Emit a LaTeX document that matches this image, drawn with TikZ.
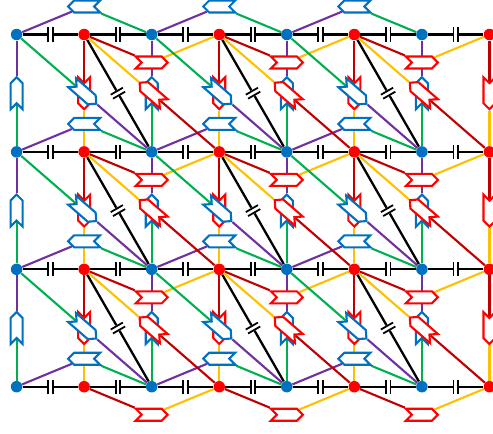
\documentclass[tikz,border=0pt]{standalone}
\usepackage{tikz}
\usepackage{xcolor}
\usetikzlibrary{shapes.symbols}
\definecolor{latblue}{HTML}{0070C0}
\definecolor{latred}{HTML}{FF0000}
\definecolor{latdarkred}{HTML}{C00000}
\definecolor{latyellow}{HTML}{FFC000}
\definecolor{latgreen}{HTML}{00B050}
\definecolor{latpurple}{HTML}{7030A0}
\newcommand{\capbars}{\rule[-4pt]{1pt}{8pt}\hspace{1.6pt}\rule[-4pt]{1pt}{8pt}}
\pgfdeclarelayer{wires}
\pgfsetlayers{wires,main}

\begin{document}
\begin{tikzpicture}[x=0.02cm, y=0.02cm,
    bdot/.style={circle, fill=latblue, inner sep=0pt, minimum size=0.23cm},
    rdot/.style={circle, fill=latred, inner sep=0pt, minimum size=0.23cm},
    flag/.style={signal, signal to=east, signal from=west, draw, fill=white, line width=1.2pt, inner sep=0pt, minimum width=0.64cm, minimum height=0.24cm},
    bflag/.style={flag, draw=latblue},
    rflag/.style={flag, draw=latred},
    wire/.style={line width=1.2pt},
    capline/.style={line width=1.3pt, black},
    capmark/.style={midway, sloped, inner sep=0pt, fill=white}]
  \useasboundingbox (0,0) rectangle (493,-433);
  \clip (0,0) rectangle (493,-433);
  \foreach \r in {0,...,3} {
    \foreach \c in {0,2,4,6} \node[bdot] (d\c\r) at ({16.6+67.55*\c},{-34.5-117.4*\r}) {};
    \foreach \c in {1,3,5,7} \node[rdot] (d\c\r) at ({16.6+67.55*\c},{-34.5-117.4*\r}) {};
  }
  \foreach \r in {0,1,2} {
    \foreach \c in {0,2,4,6} \node[bflag, rotate=90] (bv\c\r) at ({16.6+67.55*\c},{-34.5-117.4*(\r+0.5)}) {};
    \foreach \c in {1,3,5,7} \node[rflag, rotate=-90] (rv\c\r) at ({16.6+67.55*\c},{-34.5-117.4*(\r+0.5)}) {};
  }
  \foreach \r in {0,...,3} {
    \foreach \c in {0,2,4} \node[bflag, rotate=180] (bt\c\r) at ({16.6+67.55*(\c+1)},{-34.5-117.4*\r+28}) {};
    \foreach \c in {1,3,5} \node[rflag] (rb\c\r) at ({16.6+67.55*(\c+1)},{-34.5-117.4*\r-28}) {};
  }
  \foreach \r in {0,1,2} {
    \foreach \c in {0,2,4} \node[bflag, rotate=-41] (bd\c\r) at ({16.6+67.55*(\c+1)},{-34.5-117.4*(\r+0.5)}) {};
    \foreach \c in {1,3,5} \node[rflag, rotate=139] (rd\c\r) at ({16.6+67.55*(\c+1)},{-34.5-117.4*(\r+0.5)}) {};
  }
  \begin{pgfonlayer}{wires}
    \foreach \r in {0,...,3} {
      \foreach \c [evaluate=\c as \n using int(\c+1)] in {0,...,6}
        \draw[capline] (d\c\r) -- node[capmark] {\capbars} (d\n\r);
    }
    \foreach \r [evaluate=\r as \s using int(\r+1)] in {0,1,2} {
      \foreach \c [evaluate=\c as \n using int(\c+1)] in {1,3,5}
        \draw[capline] (d\c\r) -- node[capmark] {\capbars} (d\n\s);
    }
    \foreach \r in {0,...,3} {
      \foreach \c [evaluate=\c as \n using int(\c+2)] in {0,2,4} {
        \draw[wire, latpurple] (d\c\r) -- (bt\c\r);
        \draw[wire, latgreen] (bt\c\r) -- (d\n\r);
      }
      \foreach \c [evaluate=\c as \n using int(\c+2)] in {1,3,5} {
        \draw[wire, latdarkred] (d\c\r) -- (rb\c\r);
        \draw[wire, latyellow] (rb\c\r) -- (d\n\r);
      }
    }
    \foreach \r [evaluate=\r as \s using int(\r+1)] in {0,1,2} {
      \foreach \c in {0,2,4,6} {
        \draw[wire, latpurple] (d\c\r) -- (bv\c\r);
        \draw[wire, latgreen] (bv\c\r) -- (d\c\s);
      }
      \foreach \c in {1,3,5,7} {
        \draw[wire, latdarkred] (d\c\r) -- (rv\c\r);
        \draw[wire, latyellow] (rv\c\r) -- (d\c\s);
      }
      \foreach \c [evaluate=\c as \n using int(\c+2)] in {0,2,4} {
        \draw[wire, latgreen] (d\c\r) -- (bd\c\r);
        \draw[wire, latpurple] (bd\c\r) -- (d\n\s);
      }
      \foreach \c [evaluate=\c as \n using int(\c+2)] in {1,3,5} {
        \draw[wire, latyellow] (d\c\r) -- (rd\c\r);
        \draw[wire, latdarkred] (rd\c\r) -- (d\n\s);
      }
    }
  \end{pgfonlayer}
\end{tikzpicture}
\end{document}
